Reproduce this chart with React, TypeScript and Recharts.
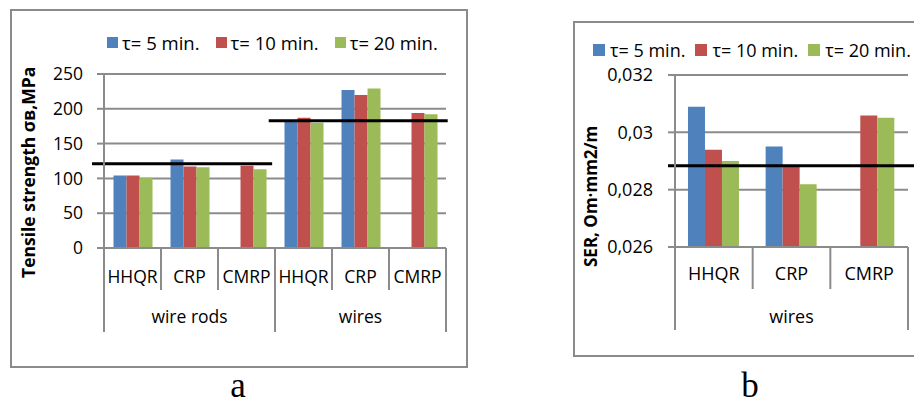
import React from 'react';
import { BarChart, Bar, XAxis, YAxis, CartesianGrid, ReferenceLine, Legend, Label } from 'recharts';

// ---------- shared ----------
const seriesNames = ['τ= 5 min.', 'τ= 10 min.', 'τ= 20 min.'];
const seriesKeys = ['t5', 't10', 't20'];
const seriesColors = ['#4F81BD', '#C0504D', '#9BBB59'];

// ---------- chart a : tensile strength ----------
const groupsA = ['wire rods', 'wire rods', 'wire rods', 'wires', 'wires', 'wires'];
const methodsA = ['HHQR', 'CRP', 'CMRP', 'HHQR', 'CRP', 'CMRP'];
const t5A = [104, 127, null, 183, 227, null];
const t10A = [104, 117, 118, 187, 220, 194];
const t20A = [101, 116, 113, 180, 229, 192];
const yTicksA = [0, 50, 100, 150, 200, 250];
const avgLevelsA = [121, 183];
const avgFromA = [-0.21, 2.89];
const avgToA = [2.95, 6.03];

// ---------- chart b : SER ----------
const groupsB = ['wires', 'wires', 'wires'];
const methodsB = ['HHQR', 'CRP', 'CMRP'];
const t5B = [0.03089, 0.02951, null];
const t10B = [0.02939, 0.0288, 0.03059];
const t20B = [0.029, 0.02819, 0.03051];
const yTicksB = [0.026, 0.028, 0.03, 0.032];
const avgLevelsB = [0.02883];
const avgFromB = [-0.09];
const avgToB = [3.1];

const FONT = "'Open Sans', 'Noto Sans', sans-serif";
const GRID = '#8b8b8b';

function buildRows(groups: string[], methods: string[], a: any[], b: any[], c: any[]) {
  return methods.map((m, i) => ({
    key: `${groups[i]}|${m}|${i}`,
    pos: i + 0.5,
    method: m,
    group: groups[i],
    t5: a[i],
    t10: b[i],
    t20: c[i],
  }));
}

const rowsA = buildRows(groupsA, methodsA, t5A, t10A, t20A);
const rowsB = buildRows(groupsB, methodsB, t5B, t10B, t20B);

function CategoryTick(props: any) {
  const { x, y, payload, width, methods, groups, fontSize, l1, l2, b1, b2 } = props;
  const i = payload.index;
  const n = methods.length;
  const half = payload.offset > 0 ? payload.offset : width / n / 2;
  const newGroup = i === 0 || groups[i] !== groups[i - 1];
  let last = i;
  while (last + 1 < n && groups[last + 1] === groups[i]) last++;
  const groupCenter = x + (last - i) * half;
  return (
    <g>
      <line x1={x - half} x2={x - half} y1={y} y2={y + (newGroup ? l2 : l1)} stroke={GRID} strokeWidth={2} />
      {i === n - 1 && (
        <line x1={x + half} x2={x + half} y1={y} y2={y + l2} stroke={GRID} strokeWidth={2} />
      )}
      <text x={x} y={y + b1} textAnchor="middle" fontFamily={FONT} fontSize={fontSize} fill="#000">
        {methods[i]}
      </text>
      {newGroup && (
        <text x={groupCenter} y={y + b2} textAnchor="middle" fontFamily={FONT} fontSize={fontSize} fill="#000">
          {groups[i]}
        </text>
      )}
    </g>
  );
}

function LegendRow(props: any) {
  const { payload, square, textGap, itemGap, fontSize } = props;
  const items = [...(payload || [])].sort(
    (a: any, b: any) => seriesKeys.indexOf(a.dataKey) - seriesKeys.indexOf(b.dataKey)
  );
  return (
    <div style={{ display: 'flex', alignItems: 'center', fontFamily: FONT, fontSize, whiteSpace: 'nowrap', color: '#000' }}>
      {items.map((p: any, i: number) => (
        <div key={i} style={{ display: 'flex', alignItems: 'center', marginRight: i < items.length - 1 ? itemGap : 0 }}>
          <span style={{ display: 'inline-block', width: square, height: square, background: p.color, marginRight: textGap }} />
          <span>{p.value}</span>
        </div>
      ))}
    </div>
  );
}

function AxisTitle(props: any) {
  const { viewBox, dx, dy, text, fontSize } = props;
  const x = viewBox.x + dx;
  const y = viewBox.y + viewBox.height + dy;
  return (
    <text x={x} y={y} transform={`rotate(-90 ${x} ${y})`} textAnchor="start" fontFamily={FONT} fontWeight="bold" fontSize={fontSize} fill="#000">
      {text}
    </text>
  );
}

const fmtComma = (v: number) => String(parseFloat(Number(v).toFixed(3))).replace('.', ',');

export default function App() {
  return (
    <div style={{ position: 'fixed', left: 0, top: 0, width: 914, height: 405, background: '#fff', overflow: 'hidden' }}>
      {/* frames */}
      <div style={{ position: 'absolute', left: 10, top: 9, width: 458, height: 359, border: `2px solid ${GRID}`, boxSizing: 'border-box' }} />
      <div style={{ position: 'absolute', left: 573, top: 21, width: 360, height: 336, border: `2px solid ${GRID}`, boxSizing: 'border-box' }} />

      {/* chart a */}
      <div style={{ position: 'absolute', left: 0, top: 0 }}>
        <BarChart width={914} height={405} data={rowsA} margin={{ top: 74, right: 468, bottom: 67, left: 0 }} barGap={0} barCategoryGap="16.7%">
          <CartesianGrid vertical={false} stroke={GRID} strokeWidth={2} />
          <XAxis dataKey="key" height={90} interval={0} tickSize={0} tickMargin={0} tickLine={false} axisLine={{ stroke: GRID, strokeWidth: 2 }}
            tick={<CategoryTick methods={methodsA} groups={groupsA} fontSize={17.5} l1={42} l2={84} b1={35} b2={75} />} />
          <XAxis xAxisId="pos" dataKey="pos" type="number" domain={[0, methodsA.length]} allowDataOverflow hide />
          <YAxis width={104} domain={[0, 250]} ticks={yTicksA} allowDataOverflow tickSize={7} tickMargin={14} stroke={GRID} strokeWidth={2}
            tick={{ fill: '#000', fontSize: 17.5, fontFamily: FONT }}>
            <Label content={(p: any) => <AxisTitle viewBox={p.viewBox} dx={35} dy={30} fontSize={17.5} text="Tensile strength σв,MPa" />} />
          </YAxis>
          {seriesKeys.map((k, i) => (
            <Bar key={k} dataKey={k} name={seriesNames[i]} fill={seriesColors[i]} isAnimationActive={false} />
          ))}
          {avgLevelsA.map((v, i) => (
            <ReferenceLine key={i} xAxisId="pos" segment={[{ x: avgFromA[i], y: v }, { x: avgToA[i], y: v }]} stroke="#000" strokeWidth={3} ifOverflow="visible" />
          ))}
          <Legend layout="horizontal" verticalAlign="middle" align="center"
            wrapperStyle={{ left: 107, top: 30, width: 'auto', height: 'auto' }}
            content={(p: any) => <LegendRow payload={p.payload} square={11} textGap={4} itemGap={16} fontSize={18.5} />} />
        </BarChart>
      </div>

      {/* chart b */}
      <div style={{ position: 'absolute', left: 0, top: 0 }}>
        <BarChart width={914} height={405} data={rowsB} margin={{ top: 75, right: 6, bottom: 68, left: 573 }} barGap={0} barCategoryGap="16.7%">
          <CartesianGrid vertical={false} stroke={GRID} strokeWidth={2} />
          <XAxis dataKey="key" height={90} interval={0} tickSize={0} tickMargin={0} tickLine={false} axisLine={{ stroke: GRID, strokeWidth: 2 }}
            tick={<CategoryTick methods={methodsB} groups={groupsB} fontSize={18} l1={42} l2={83} b1={33} b2={76} />} />
          <XAxis xAxisId="pos" dataKey="pos" type="number" domain={[0, methodsB.length]} allowDataOverflow hide />
          <YAxis width={102} domain={[0.026, 0.032]} ticks={yTicksB} allowDataOverflow tickSize={7} tickMargin={15} stroke={GRID} strokeWidth={2}
            tickFormatter={fmtComma} tick={{ fill: '#000', fontSize: 18, fontFamily: FONT }}>
            <Label content={(p: any) => <AxisTitle viewBox={p.viewBox} dx={24} dy={20} fontSize={17} text="SER, Om·mm2/m" />} />
          </YAxis>
          {seriesKeys.map((k, i) => (
            <Bar key={k} dataKey={k} name={seriesNames[i]} fill={seriesColors[i]} isAnimationActive={false} />
          ))}
          {avgLevelsB.map((v, i) => (
            <ReferenceLine key={i} xAxisId="pos" segment={[{ x: avgFromB[i], y: v }, { x: avgToB[i], y: v }]} stroke="#000" strokeWidth={3} ifOverflow="visible" />
          ))}
          <Legend layout="horizontal" verticalAlign="middle" align="center"
            wrapperStyle={{ left: 593, top: 38, width: 'auto', height: 'auto' }}
            content={(p: any) => <LegendRow payload={p.payload} square={12} textGap={5} itemGap={10} fontSize={18} />} />
        </BarChart>
      </div>

      {/* panel letters */}
      <svg width={914} height={405} style={{ position: 'absolute', left: 0, top: 0, pointerEvents: 'none' }}>
        <text x={238} y={397} textAnchor="middle" fontFamily="'Liberation Serif', 'Times New Roman', serif" fontSize={35} fill="#000">a</text>
        <text x={750} y={397} textAnchor="middle" fontFamily="'Liberation Serif', 'Times New Roman', serif" fontSize={35} fill="#000">b</text>
      </svg>
    </div>
  );
}
